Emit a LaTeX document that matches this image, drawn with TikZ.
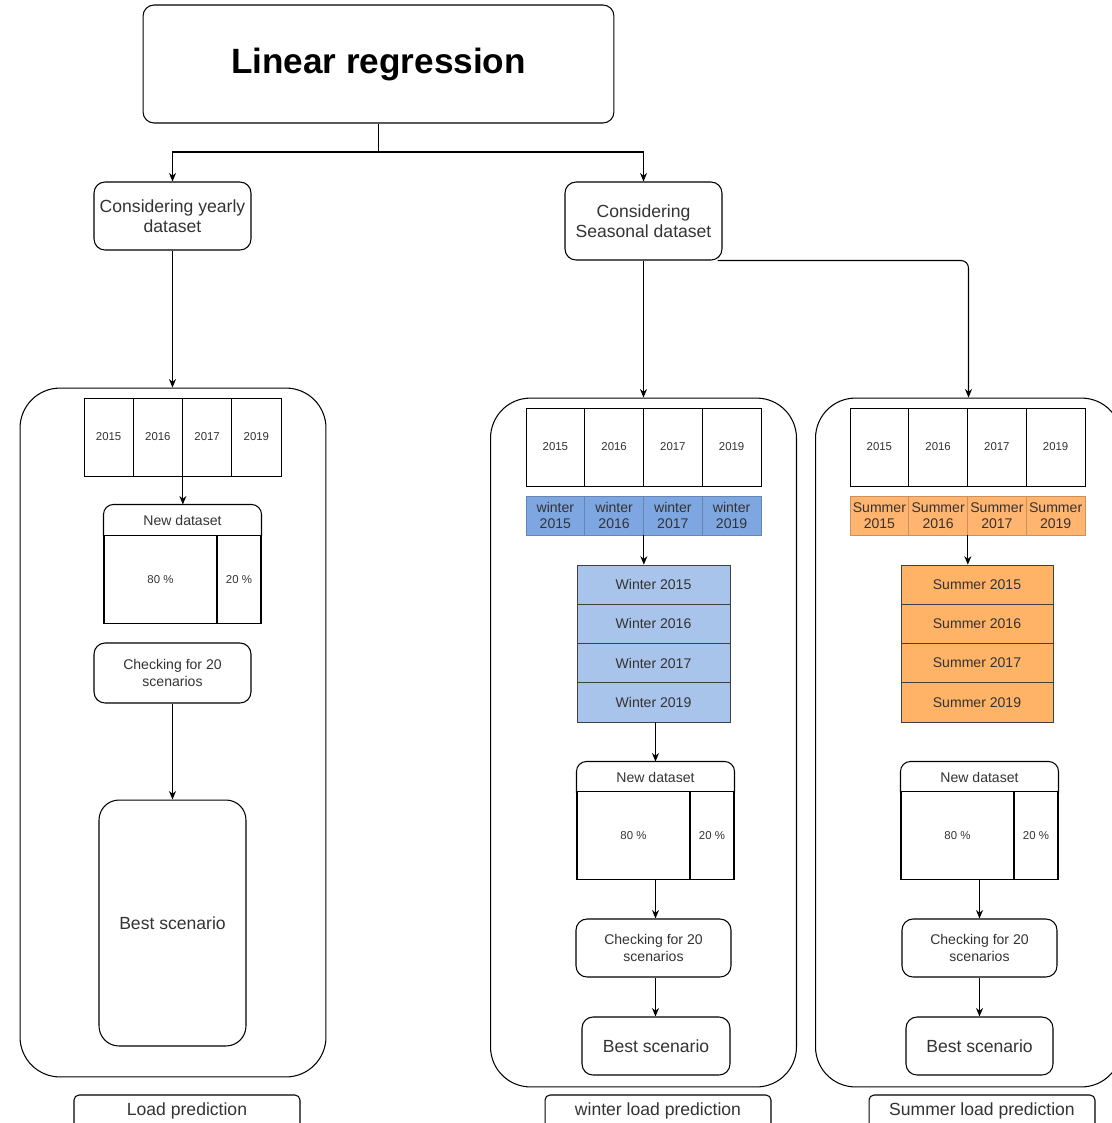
\documentclass[tikz,border=0pt]{standalone}
\usepackage{fontspec}
\setmainfont{Liberation Sans}
\usetikzlibrary{arrows.meta,positioning}

\definecolor{txt}{HTML}{333333}
\definecolor{winterrow}{HTML}{7EA6E0}
\definecolor{winterbox}{HTML}{A9C4EB}
\definecolor{summerrow}{HTML}{FFB570}
\definecolor{summerbox}{HTML}{FFB366}

\begin{document}
\begin{tikzpicture}[
    x = 0.02cm, y = -0.02cm, % one unit = one pixel of the sketch
    > = {Stealth[length=1.7mm,width=1.4mm]}, % arrow head style
    semithick % line style
    ]

    \tikzset{
    box/.style = {draw, rounded corners=2.2mm, align=center, text=txt,
      font=\fontsize{10}{11.5}\selectfont, inner sep=1pt},
    smallbox/.style = {box, font=\fontsize{8}{9.5}\selectfont},
    frame/.style = {draw, rounded corners=8mm, minimum width=6.12cm, minimum height=13.78cm},
    yearcell/.style = {draw, thin, fill=white, minimum width=#1, minimum height=1.56cm,
      text=txt, font=\fontsize{6.5}{8}\selectfont, inner sep=0pt},
    seasoncell/.style = {draw=#1!80!black, thin, fill=#1, minimum width=1.175cm, minimum height=0.78cm,
      align=center, text=txt, font=\fontsize{8}{9}\selectfont, inner sep=0pt},
    stackcell/.style = {draw=black!75, thin, fill=#1, minimum width=3.06cm, minimum height=0.785cm,
      text=txt, font=\fontsize{8}{9}\selectfont, inner sep=0pt},
    hdr/.style = {minimum width=3.14cm, minimum height=0.6cm, text=txt,
      font=\fontsize{8}{9}\selectfont, inner sep=0pt},
    part/.style = {draw, minimum width=#1, minimum height=1.76cm, text=txt,
      font=\fontsize{6.5}{8}\selectfont, inner sep=0pt},
    tagbox/.style = {draw, rounded corners=1mm, minimum width=4.52cm, minimum height=0.8cm,
      text height=2.5mm, text depth=2.5mm, text=txt, font=\fontsize{10}{12}\selectfont}
    }

    \useasboundingbox (0,0) rectangle (1112,1123);

    % top of the tree
    \node[box, minimum width=9.42cm, minimum height=2.36cm, text=black,
      font=\bfseries\fontsize{20}{24}\selectfont] (title) at (378.5,64) {Linear regression};
    \node[box, minimum width=3.14cm, minimum height=1.36cm] (yearly) at (172.5,216)
      {Considering yearly\\dataset};
    \node[box, minimum width=3.14cm, minimum height=1.56cm] (seasonal) at (643.5,221)
      {Considering\\Seasonal dataset};
    \coordinate (split) at (378.5,152);

    % frames
    \node[frame] (lframe) at (173,732.5) {};
    \node[frame] (wframe) at (643.5,742.5) {};
    \node[frame] (sframe) at (968.5,742.5) {};

    % yearly column
    \foreach \yr [count=\i] in {2015,2016,2017,2019}
      \node[yearcell=0.985cm] (ly\i) at ({59.375+49.25*\i},437) {\yr};
    \node[hdr] (lhdr) at (182.5,520) {New dataset};
    \draw[rounded corners=2mm] (lhdr.south west) -- (lhdr.north west)
      -- (lhdr.north east) -- (lhdr.south east);
    \node[part=2.26cm] (lp80) at (160.5,579.5) {80 \%};
    \node[part=0.88cm] (lp20) at (239,579.5) {20 \%};
    \node[smallbox, minimum width=3.14cm, minimum height=1.2cm] (lchk) at (172.5,673)
      {Checking for 20\\scenarios};
    \node[box, rounded corners=4mm, minimum width=2.94cm, minimum height=4.92cm] (lbest)
      at (172.5,923) {Best scenario};

    % winter column
    \foreach \yr [count=\i] in {2015,2016,2017,2019} {
      \node[yearcell=1.175cm] (wy\i) at ({496.625+58.75*\i},447) {\yr};
      \node[seasoncell=winterrow] (wr\i) at ({496.625+58.75*\i},515.5) {winter\\\yr};
      \node[stackcell=winterbox] (ws\i) at (653.5,{545.375+39.25*\i}) {Winter \yr};
    }
    \node[hdr] (whdr) at (655.5,777) {New dataset};
    \draw[rounded corners=2mm] (whdr.south west) -- (whdr.north west)
      -- (whdr.north east) -- (whdr.south east);
    \node[part=2.26cm] (wp80) at (633.5,835.5) {80 \%};
    \node[part=0.88cm] (wp20) at (712,835.5) {20 \%};
    \node[smallbox, minimum width=3.1cm, minimum height=1.16cm] (wchk) at (653.5,948)
      {Checking for 20\\scenarios};
    \node[box, minimum width=2.96cm, minimum height=1.16cm] (wbest) at (656,1046)
      {Best scenario};

    % summer column
    \foreach \yr [count=\i] in {2015,2016,2017,2019} {
      \node[yearcell=1.175cm] (sy\i) at ({820.625+58.75*\i},447) {\yr};
      \node[seasoncell=summerrow] (sr\i) at ({820.625+58.75*\i},515.5) {Summer\\\yr};
      \node[stackcell=summerbox, minimum width=3.04cm] (ss\i) at (977,{545.375+39.25*\i}) {Summer \yr};
    }
    \node[hdr] (shdr) at (979.5,777) {New dataset};
    \draw[rounded corners=2mm] (shdr.south west) -- (shdr.north west)
      -- (shdr.north east) -- (shdr.south east);
    \node[part=2.26cm] (sp80) at (957.5,835.5) {80 \%};
    \node[part=0.88cm] (sp20) at (1036,835.5) {20 \%};
    \node[smallbox, minimum width=3.1cm, minimum height=1.16cm] (schk) at (979.5,948)
      {Checking for 20\\scenarios};
    \node[box, minimum width=2.94cm, minimum height=1.16cm] (sbest) at (979.5,1046)
      {Best scenario};

    % captions
    \node[tagbox] (lload) at (187,1115) {Load prediction};
    \node[tagbox] (wload) at (658,1115) {winter load prediction};
    \node[tagbox] (sload) at (982,1115) {Summer load prediction};

    % connectors
    \draw (title.south) -- (split);
    \draw[->] (split) -| (yearly.north);
    \draw[->] (split) -| (seasonal.north);
    \draw[->] (yearly.south) -- (yearly.south |- lframe.north);
    \draw[->] (seasonal.south) -- (seasonal.south |- wframe.north);
    \draw[->, rounded corners=1.5mm] ([xshift=-1mm]seasonal.south east) -| (sframe.north);

    \draw[->] (ly2.south east) -- (ly2.south east |- lhdr.north);
    \draw[->] (lchk.south) -- (lbest.north);

    \draw[->] (wr2.south east) -- (wr2.south east |- ws1.north);
    \draw[->] (ws4.south -| whdr.north) -- (whdr.north);
    \draw[->] (wp80.south -| whdr.south) -- (wchk.north -| whdr.south);
    \draw[->] (wchk.south -| whdr.south) -- (wbest.north -| whdr.south);

    \draw[->] (sr2.south east) -- (sr2.south east |- ss1.north);
    \draw[->] (sp80.south -| shdr.south) -- (schk.north -| shdr.south);
    \draw[->] (schk.south -| shdr.south) -- (sbest.north -| shdr.south);
\end{tikzpicture}
\end{document}
